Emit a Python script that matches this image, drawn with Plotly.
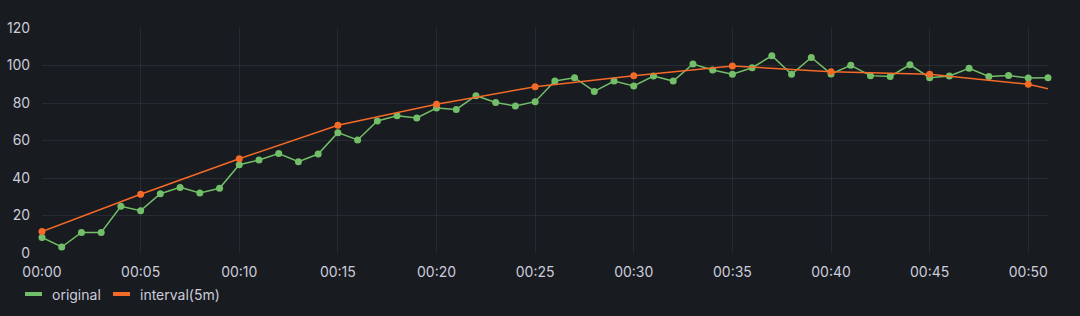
import plotly.graph_objects as go

# ---- data ----
minutes_original = list(range(0, 52))
original = [8.3, 3.2, 11.0, 11.0, 24.9, 22.6, 31.6, 35.0, 32.0, 34.5,
            47.1, 49.6, 53.1, 48.7, 52.8, 64.2, 60.3, 70.4, 73.2, 72.0,
            77.3, 76.6, 83.9, 80.3, 78.4, 80.7, 91.7, 93.5, 86.2, 91.7,
            89.1, 94.4, 91.7, 100.8, 97.6, 95.3, 98.8, 105.2, 95.3, 104.3,
            95.5, 100.1, 94.6, 94.2, 100.4, 93.5, 94.4, 98.5, 94.2, 94.7,
            93.3, 93.5]
minutes_interval = [0, 5, 10, 15, 20, 25, 30, 35, 40, 45, 50, 55]
interval = [11.5, 31.3, 50.3, 68.1, 79.3, 88.7, 94.6, 99.7, 96.7, 95.3, 90.0, 78.0]
series_names = ["original", "interval(5m)"]
y_ticks = [0, 20, 40, 60, 80, 100, 120]

def ts(m):
    return f"2023-01-01 {m // 60:02d}:{m % 60:02d}:00"

x_orig = [ts(m) for m in minutes_original]
x_int = [ts(m) for m in minutes_interval]

GREEN = "#73bf69"
ORANGE = "#f46a28"
BG = "#181b1f"
TEXT = "#ccccdc"
GRID = "rgba(204,204,220,0.09)"
FONT = "Inter, Roboto, sans-serif"

W, H = 1080, 316
ML, MR, MT, MB = 42, 32, 28, 63

fig = go.Figure()
fig.add_trace(go.Scatter(
    x=x_orig, y=original, name=series_names[0], mode="lines+markers",
    line=dict(color=GREEN, width=1.5),
    marker=dict(color=GREEN, size=7, opacity=1, line=dict(width=0)),
    cliponaxis=False, showlegend=False))
fig.add_trace(go.Scatter(
    x=x_int, y=interval, name=series_names[1], mode="lines+markers",
    line=dict(color=ORANGE, width=1.5),
    marker=dict(color=ORANGE, size=[7] * (len(interval) - 1) + [0],
                opacity=1, line=dict(width=0)),
    cliponaxis=False, showlegend=False))

# legend drawn as swatches + text under the plot
def px_to_paper_x(px):
    return (px - ML) / (W - ML - MR)

def px_to_paper_y(py):
    return 1 - (py - MT) / (H - MT - MB)

legend_items = [(series_names[0], GREEN, 25, 50), (series_names[1], ORANGE, 113, 138)]
for name, color, sx, tx in legend_items:
    fig.add_shape(type="rect", xref="paper", yref="paper",
                  x0=px_to_paper_x(sx), x1=px_to_paper_x(sx + 17),
                  y0=px_to_paper_y(292), y1=px_to_paper_y(296),
                  fillcolor=color, line=dict(width=0), layer="above")
    fig.add_annotation(text=name, xref="paper", yref="paper",
                       x=px_to_paper_x(tx), y=px_to_paper_y(294.5),
                       xanchor="left", yanchor="middle", showarrow=False,
                       font=dict(family=FONT, size=14, color=TEXT))

fig.update_layout(
    width=W, height=H,
    margin=dict(l=ML, r=MR, t=MT, b=MB, autoexpand=False),
    paper_bgcolor=BG, plot_bgcolor=BG,
    font=dict(family=FONT, size=14, color=TEXT),
    showlegend=False,
    xaxis=dict(
        type="date", range=[ts(0), ts(51)], automargin=False,
        tickformat="%H:%M", dtick=5 * 60 * 1000, tick0=ts(0),
        showgrid=True, gridcolor=GRID, gridwidth=1,
        zeroline=False, showline=False,
        ticks="outside", ticklen=6, tickcolor="rgba(0,0,0,0)",
        tickfont=dict(family=FONT, size=14, color=TEXT),
    ),
    yaxis=dict(
        range=[0, 120], tickvals=y_ticks, automargin=False,
        showgrid=True, gridcolor=GRID, gridwidth=1,
        zeroline=False, showline=False,
        ticks="outside", ticklen=8, tickcolor="rgba(0,0,0,0)",
        tickfont=dict(family=FONT, size=14, color=TEXT),
    ),
)

fig.write_html("out.html")
